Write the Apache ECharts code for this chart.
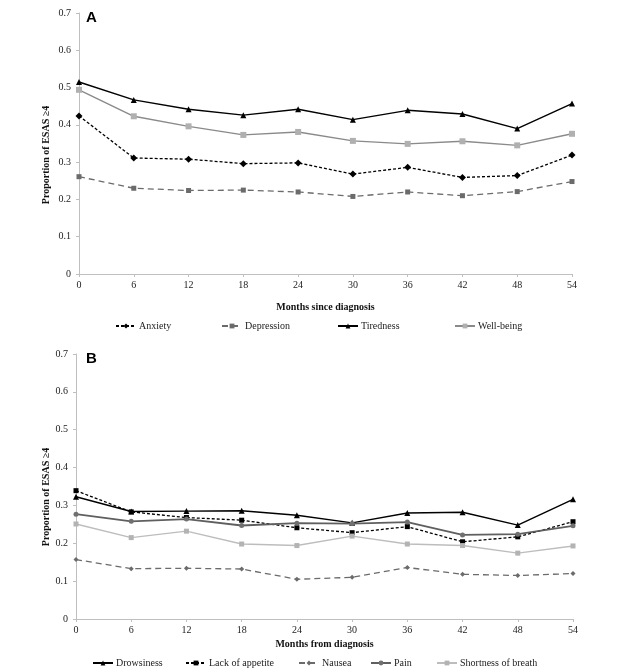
<!DOCTYPE html>
<html>
<head>
<meta charset="utf-8">
<script src="https://cdn.jsdelivr.net/npm/echarts@6/dist/echarts.min.js"></script>
<style>
html,body{margin:0;padding:0;background:#fff;}
#chart{width:622px;height:670px;}
</style>
</head>
<body>
<div id="chart"></div>
<script>
// ---- data ----
var months = [0, 6, 12, 18, 24, 30, 36, 42, 48, 54];
var yTicks = [0, 0.1, 0.2, 0.3, 0.4, 0.5, 0.6, 0.7];

var anxiety    = [0.424, 0.311, 0.308, 0.296, 0.298, 0.268, 0.286, 0.259, 0.264, 0.319];
var depression = [0.261, 0.230, 0.224, 0.225, 0.220, 0.208, 0.220, 0.210, 0.221, 0.248];
var tiredness  = [0.515, 0.467, 0.442, 0.426, 0.442, 0.414, 0.439, 0.429, 0.390, 0.457];
var wellbeing  = [0.494, 0.423, 0.396, 0.373, 0.381, 0.357, 0.349, 0.356, 0.345, 0.376];

var drowsiness = [0.323, 0.284, 0.285, 0.286, 0.274, 0.254, 0.280, 0.282, 0.248, 0.316];
var appetite   = [0.339, 0.283, 0.268, 0.261, 0.241, 0.228, 0.244, 0.204, 0.217, 0.257];
var nausea     = [0.157, 0.133, 0.134, 0.132, 0.105, 0.110, 0.136, 0.118, 0.115, 0.120];
var pain       = [0.277, 0.258, 0.264, 0.247, 0.253, 0.252, 0.256, 0.222, 0.224, 0.246];
var breath     = [0.251, 0.215, 0.232, 0.198, 0.194, 0.219, 0.198, 0.194, 0.174, 0.193];

var namesA = ['Anxiety', 'Depression', 'Tiredness', 'Well-being'];
var namesB = ['Drowsiness', 'Lack of appetite', 'Nausea', 'Pain', 'Shortness of breath'];

function pairs(vals) { return months.map(function (m, i) { return [m, vals[i]]; }); }

var SERIF = '"Liberation Serif","Times New Roman",serif';
var axisGray = '#bfbfbf';

function xAxisCfg(gridIndex, name, gap) {
  return {
    type: 'value', gridIndex: gridIndex, min: 0, max: 54, interval: 6,
    name: name, nameLocation: 'middle', nameGap: gap,
    nameTextStyle: { fontFamily: SERIF, fontWeight: 'bold', fontSize: 10, color: '#111' },
    axisLine: { show: true, lineStyle: { color: axisGray, width: 1 } },
    axisTick: { show: true, length: 3, lineStyle: { color: axisGray } },
    axisLabel: { fontFamily: SERIF, fontSize: 10, color: '#222', margin: 6 },
    splitLine: { show: false }
  };
}
function yAxisCfg(gridIndex) {
  return {
    type: 'value', gridIndex: gridIndex, min: 0, max: 0.7, interval: 0.1,
    axisLine: { show: true, lineStyle: { color: axisGray, width: 1 } },
    axisTick: { show: true, length: 3, lineStyle: { color: axisGray } },
    axisLabel: { fontFamily: SERIF, fontSize: 10, color: '#222', margin: 8,
      formatter: function (v) { return v === 0 ? '0' : v.toFixed(1); } },
    splitLine: { show: false }
  };
}
function line(name, idx, vals, color, dash, width, symbol, size, symColor) {
  return {
    name: name, type: 'line', xAxisIndex: idx, yAxisIndex: idx,
    data: pairs(vals), symbol: symbol, symbolSize: size, showSymbol: true,
    lineStyle: { color: color, width: width, type: dash },
    itemStyle: { color: symColor || color, borderWidth: 0 },
    animation: false, z: 3
  };
}
function legendAt(name, left, top) {
  return {
    data: [name], left: left, top: top, padding: 0, itemWidth: 20, itemHeight: 6, itemGap: 4,
    textStyle: { fontFamily: SERIF, fontSize: 10, color: '#222', padding: [0, 0, 0, -2] },
    selectedMode: false
  };
}

var chart = echarts.init(document.getElementById('chart'), null, { renderer: 'canvas' });
chart.setOption({
  backgroundColor: '#fff',
  animation: false,
  grid: [
    { left: 79, right: 50, top: 13, height: 261 },
    { left: 76, right: 49, top: 354, height: 265 }
  ],
  xAxis: [xAxisCfg(0, 'Months since diagnosis', 28), xAxisCfg(1, 'Months from diagnosis', 20)],
  yAxis: [yAxisCfg(0), yAxisCfg(1)],
  legend: [
    legendAt('Anxiety', 115, 321),
    legendAt('Depression', 221, 321),
    legendAt('Tiredness', 337, 321),
    legendAt('Well-being', 454, 321),
    legendAt('Drowsiness', 92, 658),
    legendAt('Lack of appetite', 185, 658),
    legendAt('Nausea', 298, 658),
    legendAt('Pain', 370, 658),
    legendAt('Shortness of breath', 436, 658)
  ],
  series: [
    line('Anxiety', 0, anxiety, '#000', [3, 2], 1.3, 'diamond', 7),
    line('Depression', 0, depression, '#6b6b6b', [6, 4], 1.3, 'rect', 5),
    line('Tiredness', 0, tiredness, '#000', 'solid', 1.4, 'triangle', 6),
    line('Well-being', 0, wellbeing, '#8a8a8a', 'solid', 1.4, 'rect', 6, '#b0b0b0'),
    line('Drowsiness', 1, drowsiness, '#000', 'solid', 1.4, 'triangle', 6),
    line('Lack of appetite', 1, appetite, '#000', [3, 2], 1.3, 'rect', 5),
    line('Nausea', 1, nausea, '#6b6b6b', [6, 4], 1.3, 'diamond', 5),
    line('Pain', 1, pain, '#5f5f5f', 'solid', 1.8, 'circle', 5, '#707070'),
    line('Shortness of breath', 1, breath, '#bdbdbd', 'solid', 1.4, 'rect', 5, '#b3b3b3')
  ],
  graphic: [
    { type: 'text', left: 86, top: 10, style: { text: 'A', font: 'bold 15px "Liberation Sans", Arial, sans-serif', fill: '#000' } },
    { type: 'text', left: 86, top: 351, style: { text: 'B', font: 'bold 15px "Liberation Sans", Arial, sans-serif', fill: '#000' } },
    { type: 'text', x: 46, y: 155, rotation: Math.PI / 2,
      style: { text: 'Proportion of ESAS \u22654', font: 'bold 10px "Liberation Serif","Times New Roman",serif', fill: '#111', textAlign: 'center', textVerticalAlign: 'middle' } },
    { type: 'text', x: 46, y: 497, rotation: Math.PI / 2,
      style: { text: 'Proportion of ESAS \u22654', font: 'bold 10px "Liberation Serif","Times New Roman",serif', fill: '#111', textAlign: 'center', textVerticalAlign: 'middle' } }
  ]
});
</script>
</body>
</html>
